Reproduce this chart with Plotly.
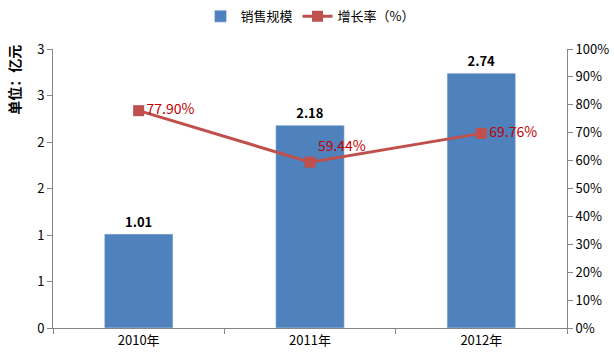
import plotly.graph_objects as go

categories = ["2010年", "2011年", "2012年"]
sales = [1.01, 2.18, 2.74]
growth = [77.90, 59.44, 69.76]
left_tickvals = [0, 0.5, 1, 1.5, 2, 2.5, 3]
left_ticktext = ["0", "1", "1", "2", "2", "3", "3"]
right_tickvals = list(range(0, 101, 10))
right_ticktext = [f"{v}%" for v in right_tickvals]

FONT = "Noto Sans CJK SC"

fig = go.Figure()
fig.add_trace(go.Bar(
    x=categories, y=sales, name="销售规模",
    marker=dict(color="#4F81BD"),
    text=[f"{v:.2f}" for v in sales], textposition="outside",
    textfont=dict(family=FONT, size=13, color="black", weight="bold"),
    cliponaxis=False,
))
fig.add_trace(go.Scatter(
    x=categories, y=growth, name="增长率（%）", yaxis="y2",
    mode="lines+markers+text",
    line=dict(color="#C0504D", width=3),
    marker=dict(symbol="square", size=11, color="#C0504D"),
    text=[f"{v:.2f}%" for v in growth],
    textposition=["middle right", "top right", "middle right"],
    textfont=dict(family=FONT, size=14, color="#C00000"),
    cliponaxis=False,
))

fig.update_layout(
    width=614, height=361,
    margin=dict(l=53, r=47, t=49, b=33, autoexpand=False),
    paper_bgcolor="white", plot_bgcolor="white",
    font=dict(family=FONT, size=13, color="black"),
    bargap=0.6,
    showlegend=True,
    legend=dict(orientation="h", x=0.5, xanchor="center", yref="container",
                y=0.955, yanchor="middle",
                font=dict(family=FONT, size=13), itemwidth=30, traceorder="normal"),
    xaxis=dict(showline=True, linecolor="#868686", ticks="outside", tickson="boundaries",
               ticklen=5, tickcolor="#868686", showgrid=False, automargin=False,
               tickfont=dict(family=FONT, size=13)),
    yaxis=dict(range=[0, 3], tickvals=left_tickvals, ticktext=left_ticktext,
               showline=True, linecolor="#868686", ticks="outside", ticklen=5,
               tickcolor="#868686", showgrid=False, zeroline=False, automargin=False,
               tickfont=dict(family=FONT, size=13)),
    yaxis2=dict(range=[0, 100], tickvals=right_tickvals, ticktext=right_ticktext,
                overlaying="y", side="right",
                showline=True, linecolor="#868686", ticks="outside", ticklen=5,
                tickcolor="#868686", showgrid=False, zeroline=False, automargin=False,
                tickfont=dict(family=FONT, size=13)),
    annotations=[dict(text="单位：亿元", textangle=-90, xref="paper", yref="paper",
                      x=-0.076, y=0.89, xanchor="center", yanchor="middle",
                      showarrow=False, font=dict(family=FONT, size=14, color="black",
                                                 weight="bold"))],
)

fig.write_html("out.html", config={"displayModeBar": False},
               post_script="document.body.style.margin='0';document.body.style.padding='0';")
